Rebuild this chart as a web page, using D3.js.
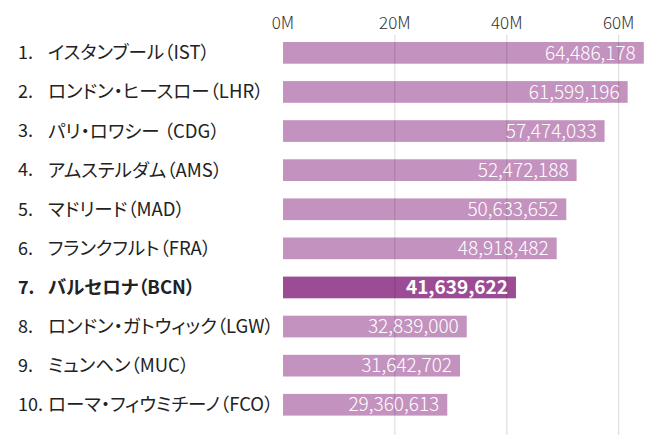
<!DOCTYPE html>
<html>
<head>
<meta charset="utf-8">
<script src="https://cdn.jsdelivr.net/npm/d3@7"></script>
<style>
  body { margin: 0; background: #fff; }
  svg { display: block; font-family: "Noto Sans CJK JP", "Noto Sans", sans-serif; }
  .name { font-feature-settings: "palt"; }
</style>
</head>
<body>
<div id="chart"></div>
<script>
// airports, ranked by passengers
var ranks = ["1.", "2.", "3.", "4.", "5.", "6.", "7.", "8.", "9.", "10."];
var airports = [
  "イスタンブール（IST）",
  "ロンドン・ヒースロー（LHR）",
  "パリ・ロワシー （CDG）",
  "アムステルダム（AMS）",
  "マドリード（MAD）",
  "フランクフルト（FRA）",
  "バルセロナ（BCN）",
  "ロンドン・ガトウィック（LGW）",
  "ミュンヘン（MUC）",
  "ローマ・フィウミチーノ（FCO）"
];
var passengers = [64486178, 61599196, 57474033, 52472188, 50633652, 48918482, 41639622, 32839000, 31642702, 29360613];
var highlight = "バルセロナ（BCN）";
var tickValues = [0, 20e6, 40e6, 60e6];

var width = 645, height = 435;

var svg = d3.select("#chart").append("svg")
            .attr("width", width)
            .attr("height", height);

var x = d3.scaleLinear()
          .domain([0, 60e6])
          .range([283, 618.7]);

var y = d3.scaleBand()
          .domain(airports)
          .range([33.3, 424.3])
          .paddingInner(0.445)
          .paddingOuter(0.2225);

var fmt = d3.format(",");

// tick labels on top
svg.selectAll("text.tick")
   .data(tickValues)
   .enter()
   .append("text")
   .attr("class", "tick")
   .attr("x", function (d) { return x(d); })
   .attr("y", 23)
   .attr("dy", "0.35em")
   .attr("text-anchor", "middle")
   .style("font-size", "17px")
   .style("font-weight", 300)
   .style("fill", "#333")
   .text(function (d) { return (d / 1e6) + "M"; });

// bars
svg.selectAll("rect.bar")
   .data(airports)
   .enter()
   .append("rect")
   .attr("class", "bar")
   .attr("x", x(0))
   .attr("y", function (d) { return y(d); })
   .attr("width", function (d, i) { return x(passengers[i]) - x(0); })
   .attr("height", y.bandwidth())
   .style("fill", function (d) { return d == highlight ? "#9c4c94" : "#c492bf"; });

// gridlines (drawn over the bars)
svg.selectAll("line.grid")
   .data(tickValues.slice(1))
   .enter()
   .append("line")
   .attr("class", "grid")
   .attr("x1", function (d) { return x(d); })
   .attr("x2", function (d) { return x(d); })
   .attr("y1", 35)
   .attr("y2", height)
   .style("stroke", "#000")
   .style("stroke-opacity", 0.15)
   .style("stroke-width", 1);

// rank numbers
svg.selectAll("text.rank")
   .data(airports)
   .enter()
   .append("text")
   .attr("class", "rank")
   .attr("x", 18)
   .attr("y", function (d) { return y(d) + y.bandwidth() / 2; })
   .attr("dy", "0.35em")
   .style("font-size", "18px")
   .style("fill", "#222")
   .style("font-weight", function (d) { return d == highlight ? "bold" : "normal"; })
   .text(function (d, i) { return ranks[i]; });

// airport names
svg.selectAll("text.name")
   .data(airports)
   .enter()
   .append("text")
   .attr("class", "name")
   .attr("x", 48)
   .attr("y", function (d) { return y(d) + y.bandwidth() / 2; })
   .attr("dy", "0.35em")
   .style("font-size", "18.5px")
   .style("fill", "#222")
   .style("font-weight", function (d) { return d == highlight ? "bold" : "normal"; })
   .text(function (d) { return d; });

// values inside the bars
svg.selectAll("text.value")
   .data(airports)
   .enter()
   .append("text")
   .attr("class", "value")
   .attr("x", function (d, i) { return x(passengers[i]) - 8; })
   .attr("y", function (d) { return y(d) + y.bandwidth() / 2; })
   .attr("dy", "0.35em")
   .attr("text-anchor", "end")
   .style("font-size", "19px")
   .style("fill", "#fff")
   .style("font-weight", function (d) { return d == highlight ? "bold" : 300; })
   .text(function (d, i) { return fmt(passengers[i]); });
</script>
</body>
</html>
